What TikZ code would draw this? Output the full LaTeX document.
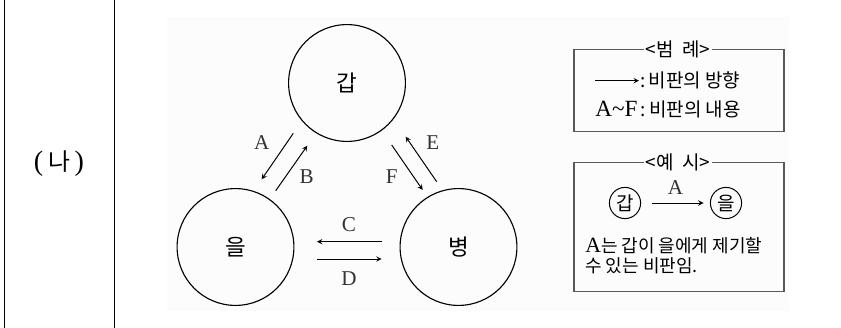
\documentclass[tikz,border=0pt]{standalone}
\usepackage{fontspec}
\setmainfont{Liberation Serif}
\newfontfamily\kr{Noto Sans CJK KR}
\usepackage{xcolor}
\definecolor{paperBg}{gray}{0.99}
\definecolor{boxGray}{gray}{0.35}
\usepackage{tikz}

\begin{document}
\begin{tikzpicture}[x=0.025cm, y=-0.025cm, >=stealth,
    party/.style={draw, circle, line width=0.8pt, minimum size=2.92cm, inner sep=0pt,
      font=\kr\fontsize{16}{18}\selectfont},
    crit/.style={->, line width=0.7pt},
    letter/.style={inner sep=0pt, text=black!80, font=\fontsize{15}{17}\selectfont},
    legendbox/.style={draw=boxGray, line width=0.9pt},
    legendtitle/.style={fill=paperBg, inner sep=1.5pt, font=\kr\fontsize{13.5}{15}\selectfont},
    legendtext/.style={inner sep=0pt, anchor=west, font=\kr\fontsize{13.5}{15}\selectfont},
    mini/.style={draw, circle, line width=0.7pt, minimum size=0.78cm, inner sep=0pt,
      font=\kr\fontsize{13.5}{15}\selectfont}]
  \useasboundingbox (0,0) rectangle (841,328);
  % ------- left column -------
  \draw[line width=0.8pt] (4.5,0) -- (4.5,328);
  \draw[line width=0.8pt] (114.5,0) -- (114.5,328);
  \node[font=\fontsize{20}{22}\selectfont] (tag) at (59,164) {(\,{\kr\fontsize{17}{20}\selectfont 나}\,)};
  \fill[paperBg] (167,17) rectangle (789,311);
  % ------- three parties -------
  \node[party] (gap) at (347,83) {갑};
  \node[party] (eul) at (235.5,247) {을};
  \node[party] (byeong) at (458.5,247) {병};
  % arrow ends
  \coordinate (A-s) at (293.3,133.3); \coordinate (A-e) at (261.7,179.3);
  \coordinate (B-s) at (275.7,190.7); \coordinate (B-e) at (307.3,145.7);
  \coordinate (C-s) at (381.7,241.7); \coordinate (C-e) at (317,241.7);
  \coordinate (D-s) at (317,259);     \coordinate (D-e) at (381.7,259);
  \coordinate (E-s) at (436.7,181.7); \coordinate (E-e) at (405.7,136.7);
  \coordinate (F-s) at (391.7,145);   \coordinate (F-e) at (422.7,190);
  \foreach \c in {A,B,C,D,E,F}
    \draw[crit] (\c-s) -- (\c-e);
  \foreach \c/\x/\y in {A/261.7/143, B/306.7/177, C/349/225, D/349/279, E/432.7/143, F/391.7/177}
    \node[letter] (lbl\c) at (\x,\y) {\c};
  % ------- legend -------
  \draw[legendbox] (574,49.3) rectangle (784,131.7);
  \node[legendtitle] (keyTitle) at (678,49.3) {<범\ \ 례>};
  \coordinate (keyL) at (595,80.7);
  \coordinate (keyR) at (639,80.7);
  \draw[crit] (keyL) -- (keyR);
  \node[legendtext] (keyDir) at (640,80.7) {:\,비판의 방향};
  \node[legendtext] (keyCont) at (595,109)
    {{\rmfamily\fontsize{16.5}{18}\selectfont A\textasciitilde F}\,:\,비판의 내용};
  % ------- example -------
  \draw[legendbox] (574,162.7) rectangle (784,291.7);
  \node[legendtitle] (exTitle) at (678,162.7) {<예\ \ 시>};
  \node[mini] (exGap) at (625,203) {갑};
  \node[mini] (exEul) at (726,203) {을};
  \draw[crit, shorten <=0.28cm, shorten >=0.16cm] (exGap) --
    node[letter, above=0.2cm] (exA) {A} (exEul);
  \node[legendtext, font=\kr\fontsize{12.8}{15}\selectfont] (exLine1) at (585,246)
    {{\rmfamily\fontsize{15.5}{17}\selectfont A}는 갑이 을에게 제기할};
  \node[legendtext, font=\kr\fontsize{12.8}{15}\selectfont] (exLine2) at (585,265.5) {수 있는 비판임.};
\end{tikzpicture}
\end{document}
